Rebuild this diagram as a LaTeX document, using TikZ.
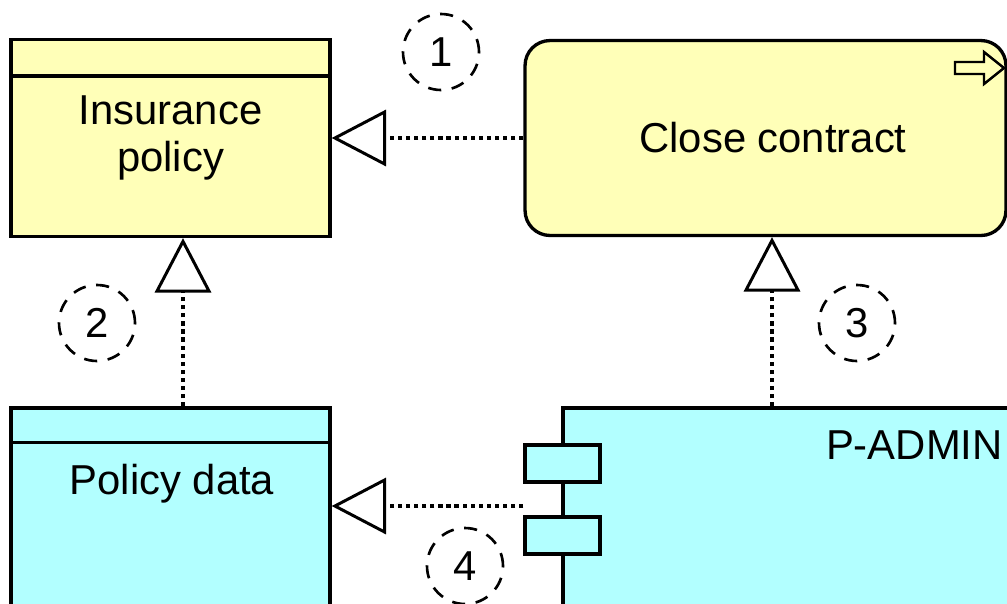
\documentclass[tikz,border=0pt]{standalone}
\usepackage{fontspec}
\setmainfont{Liberation Sans}
\usepackage{xcolor}
\usetikzlibrary{arrows.meta,positioning}

\definecolor{busYellow}{RGB}{255,255,184}
\definecolor{appCyan}{RGB}{178,255,255}

\tikzset{
	objbox/.style={rectangle, draw=black, line width=1.9pt, minimum width=6.38cm, align=center},
	realiz/.style={line width=1.8pt, dash pattern=on 2.4pt off 2.2pt, -{Triangle[open, length=31pt, width=32pt, line width=1.7pt]}},
	numcirc/.style={circle, draw=black, line width=1.5pt, minimum size=1.52cm, dash pattern=on 7.5pt off 6pt},
	port/.style={rectangle, draw=black, line width=1.9pt, fill=appCyan, minimum width=1.5cm, minimum height=0.74cm}
}

\begin{document}
\begin{tikzpicture}[x=0.02cm, y=-0.02cm, font=\fontsize{23.8}{26.5}\selectfont]
\useasboundingbox (0,0) rectangle (1007,603);
\clip (0,0) rectangle (1007,603);

\node[objbox, fill=busYellow, minimum height=3.94cm](InsPol) at (170.5,138) {Insurance\\policy};
	\draw[line width=1.9pt] ([yshift=-0.76cm]InsPol.north west) to ([yshift=-0.76cm]InsPol.north east);
\node[rectangle, rounded corners=0.5cm, draw=black, line width=1.9pt, fill=busYellow, minimum width=9.62cm, minimum height=3.9cm](CloseC) at (765.5,138) {\hspace*{0.3cm}Close contract};
	\draw[line width=1.4pt, line join=miter] (955,62) -- (984,62) -- (984,52) -- (1004,68) -- (984,84) -- (984,74) -- (955,74) -- cycle;

\node[objbox, fill=appCyan, minimum height=4.44cm](PolData) at (170.5,519) {};
	\draw[line width=1.9pt] ([yshift=-0.72cm]PolData.north west) to ([yshift=-0.72cm]PolData.north east);
\node(PolDataTxt) at (172,484) {Policy data};

\node[rectangle, draw=black, line width=1.9pt, fill=appCyan, minimum width=9.34cm, minimum height=4.44cm](PAdmin) at (796.5,519) {};
\node[anchor=east, inner sep=0pt](PAdminTxt) at (1003,445) {P-ADMIN};
\node[port](PortA) at (562.5,463.5) {};
\node[port](PortB) at (562.5,535.5) {};

	\draw[realiz] (CloseC) to (InsPol);
	\draw[realiz] ([xshift=0.25cm]PolData.north) to ([xshift=0.25cm]InsPol.south);
	\draw[realiz] ([xshift=0.13cm]CloseC.south |- PAdmin.north) to ([xshift=0.13cm]CloseC.south);
\coordinate (PortsEdge) at (PortA.west |- 0,506);
	\draw[realiz] (PortsEdge) to (PortsEdge -| PolData.east);

\node[numcirc](Num1) at (441,52) {1};
\node[numcirc](Num2) at (97,323) {2};
\node[numcirc](Num3) at (857,323) {3};
\node[numcirc](Num4) at (465,566) {4};
\end{tikzpicture}
\end{document}
